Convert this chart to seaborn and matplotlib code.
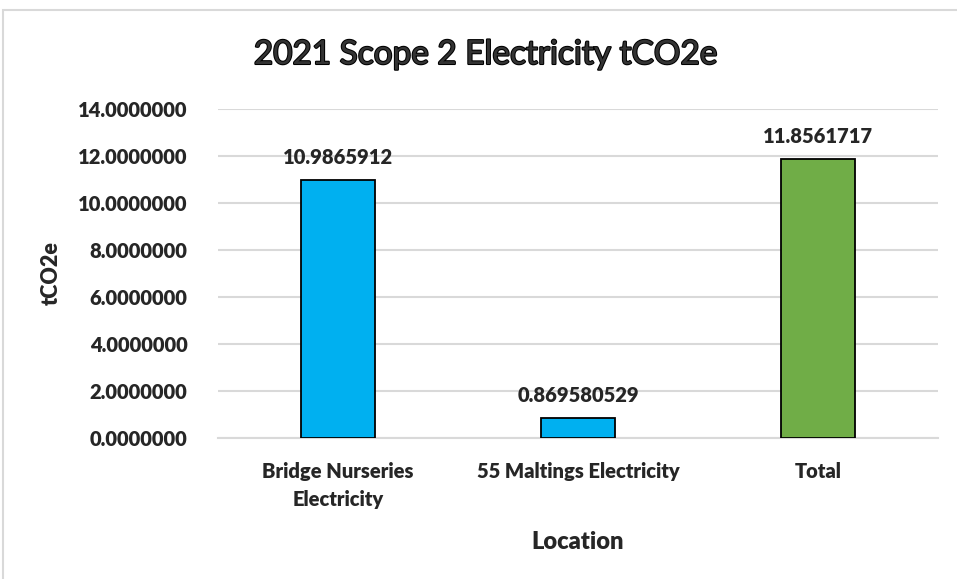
import matplotlib
matplotlib.use("Agg")
import matplotlib.pyplot as plt
import matplotlib.patheffects as pe
import matplotlib.patches as patches
import pandas as pd
import seaborn as sns

# dados do grafico
locations = ["Bridge Nurseries\nElectricity", "55 Maltings Electricity", "Total"]
values = [10.9865912, 0.869580529, 11.8561717]
labels = ["10.9865912", "0.869580529", "11.8561717"]
colors = ["#00B0F0", "#00B0F0", "#70AD47"]
yticks = [0, 2, 4, 6, 8, 10, 12, 14]

df = pd.DataFrame({"Location": locations, "tCO2e": values})

sns.set_style("white")
plt.rcParams["font.family"] = ["Lato", "DejaVu Sans"]

fig = plt.figure(figsize=(9.57, 5.79), dpi=100)
ax = fig.add_axes([218 / 957, 1 - 438 / 579, 720 / 957, 329 / 579])

sns.barplot(data=df, x="Location", y="tCO2e", hue="Location", palette=colors,
            saturation=1, width=0.31, edgecolor="black", linewidth=1.3,
            legend=False, ax=ax, zorder=3)

W = "heavy"
ax.set_ylim(0, 14)
ax.set_yticks(yticks)
ax.set_yticklabels([f"{v:.7f}" for v in yticks], fontsize=14.5, fontweight=W)
ax.set_xticks(range(len(locations)))
ax.set_xticklabels(locations, fontsize=14.5, fontweight=W, linespacing=1.6)
ax.tick_params(axis="y", length=0, pad=22)
ax.tick_params(axis="x", length=0, pad=17)
ax.yaxis.grid(True, color="#d9d9d9", linewidth=1.5, zorder=0)
for s in ["top", "right", "left"]:
    ax.spines[s].set_visible(False)
ax.spines["bottom"].set_color("#d9d9d9")
ax.spines["bottom"].set_linewidth(1.5)

# rotulos das barras
for i, (v, lab) in enumerate(zip(values, labels)):
    ax.text(i, v + 0.55, lab, ha="center", va="bottom", fontsize=14.5, fontweight=W)

ax.set_ylabel("tCO2e", fontsize=15.5, fontweight=W, labelpad=12)
ax.set_xlabel("Location", fontsize=17, fontweight=W, labelpad=16)

fig.text(486 / 957, 1 - 55 / 579, "2021 Scope 2 Electricity tCO2e", ha="center", va="center",
         fontsize=24, color="#333333",
         path_effects=[pe.withStroke(linewidth=1.5, foreground="black")])

# borda do grafico
fig.patches.append(patches.Rectangle((3 / 957, -0.05), 1.2, 1 - 10 / 579 + 0.05,
                                     transform=fig.transFigure, fill=False,
                                     edgecolor="#d9d9d9", linewidth=1.5))

fig.savefig("out.png", dpi=100)
